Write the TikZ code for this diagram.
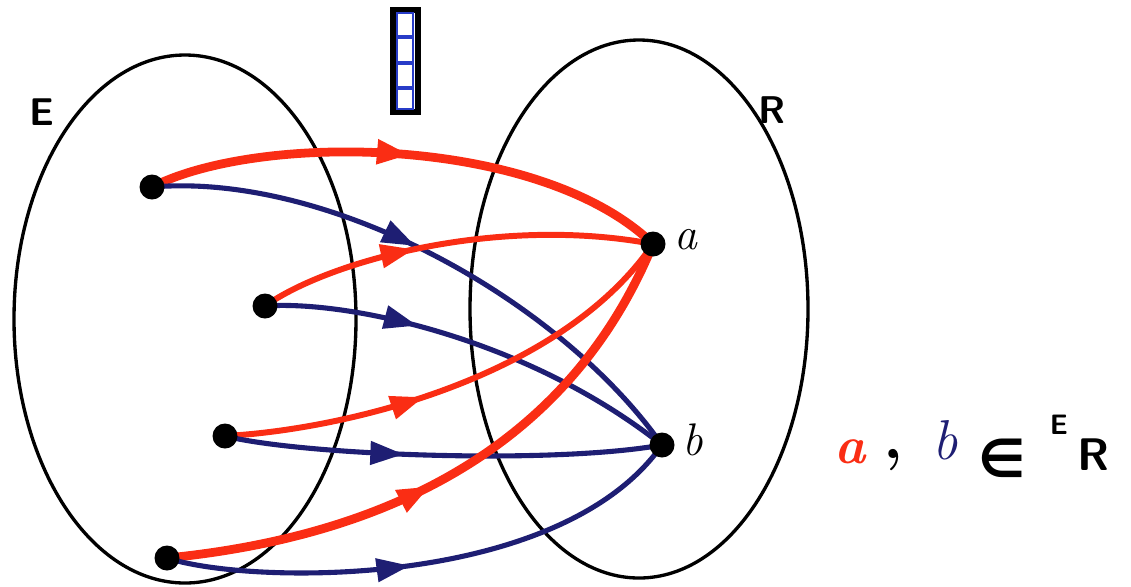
\documentclass[tikz,border=0pt]{standalone}
\usepackage{fontspec}
\newfontfamily\dejavu{DejaVu Sans}
\usetikzlibrary{arrows.meta,decorations.markings,backgrounds}
\definecolor{redl}{RGB}{250,45,20}
\definecolor{bluel}{RGB}{30,30,115}
\definecolor{cellblue}{RGB}{40,60,200}
\tikzset{
  dot/.style={circle,fill=black,inner sep=0pt,minimum size=0.5cm},
  setline/.style={draw=black,line width=1.9pt},
  redarc/.style={draw=redl,line width=3.4pt,line cap=round},
  redthick/.style={draw=redl,line width=5pt,line cap=round},
  bluearc/.style={draw=bluel,line width=2.9pt,line cap=round},
  midtip/.style={postaction={decorate},decoration={markings,
      mark=at position #1 with {\arrow{Triangle[length=19pt,width=13pt]}}}},
  setlabel/.style={font=\sffamily\bfseries\fontsize{22}{24}\selectfont},
  ptlabel/.style={font=\itshape\fontsize{26}{28}\selectfont}
}
\begin{document}
\begin{tikzpicture}[x=0.02cm,y=-0.02cm]
\useasboundingbox (0,0) rectangle (1131,586);
% points
\node[dot] (e1) at (152,187) {};
\node[dot] (e2) at (265,306) {};
\node[dot] (e3) at (225,436) {};
\node[dot] (e4) at (167,558) {};
\node[dot] (a) at (653,244) {};
\node[dot] (b) at (662,445) {};
\node[ptlabel,anchor=west] (la) at (668,240) {a};
\node[ptlabel,anchor=west] (lb) at (676,440) {b};
\begin{pgfonlayer}{background}
% sets
\draw[setline] (185,319) ellipse [x radius=171,y radius=264];
\draw[setline] (639,309) ellipse [x radius=169,y radius=269];
% arrows
\draw[redthick,midtip=0.5] (e1.center) .. controls (260,132) and (540,135) .. (a.center);
\draw[bluearc,midtip=0.46] (e1.center) .. controls (330,172) and (560,300) .. (b.center);
\draw[redarc,midtip=0.4] (e2.center) .. controls (330,260) and (500,215) .. (a.center);
\draw[bluearc,midtip=0.36] (e2.center) .. controls (350,300) and (530,340) .. (b.center);
\draw[redarc,midtip=0.42] (e3.center) .. controls (340,430) and (560,380) .. (a.center);
\draw[bluearc,midtip=0.41] (e3.center) .. controls (300,455) and (550,465) .. (b.center);
\draw[redthick,midtip=0.45] (e4.center) .. controls (350,540) and (560,470) .. (a.center);
\draw[bluearc,midtip=0.46] (e4.center) .. controls (250,585) and (560,590) .. (b.center);
\end{pgfonlayer}
\node[setlabel] (E) at (42,112) {E};
\node[setlabel] (R) at (772,110) {R};
% column of cells
\draw[black,line width=3pt] (393,10) rectangle (418,112);
\foreach \y/\z in {13/36,38/62,64/87,89/109}{
  \draw[cellblue,line width=0.9pt] (397,\y) rectangle (413,\z);
}
% statement
\node[text=redl,font=\itshape\bfseries\fontsize{30}{32}\selectfont] (sa) at (850,452) {a};
\node[font=\bfseries\fontsize{36}{38}\selectfont] (sc) at (893,460) {,};
\node[text=bluel,font=\itshape\fontsize{32}{34}\selectfont] (sb) at (945,440) {b};
\node[font=\dejavu\bfseries\fontsize{30}{32}\selectfont] (sin) at (1002,458) {∈};
\node[font=\sffamily\bfseries\fontsize{16}{18}\selectfont] (sE) at (1059,425) {E};
\node[font=\sffamily\bfseries\fontsize{26}{28}\selectfont] (sR) at (1094,455) {R};
\end{tikzpicture}
\end{document}
